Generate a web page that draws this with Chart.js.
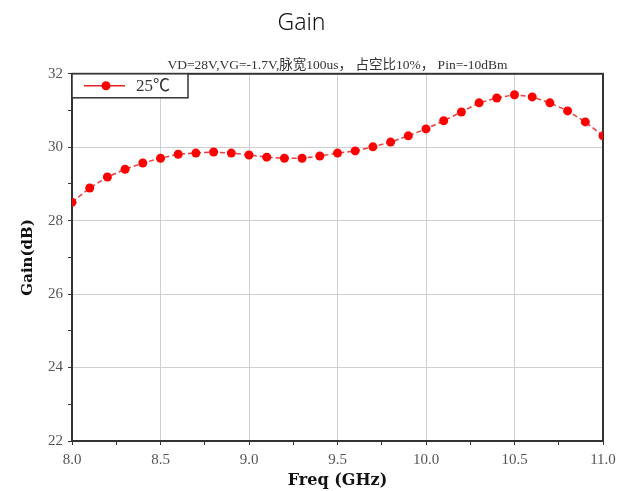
<!DOCTYPE html>
<html>
<head>
<meta charset="utf-8">
<script src="https://cdn.jsdelivr.net/npm/chart.js@4/dist/chart.umd.min.js"></script>
<style>
  body { margin: 0; background: #fff; }
</style>
</head>
<body>
<canvas id="myChart" width="627" height="491"></canvas>
<script>
var freqData = [8.0, 8.1, 8.2, 8.3, 8.4, 8.5, 8.6, 8.7, 8.8, 8.9, 9.0,
                9.1, 9.2, 9.3, 9.4, 9.5, 9.6, 9.7, 9.8, 9.9, 10.0,
                10.1, 10.2, 10.3, 10.4, 10.5, 10.6, 10.7, 10.8, 10.9, 11.0];
var gainData = [28.50, 28.89, 29.19, 29.40, 29.57, 29.70, 29.81, 29.84, 29.87, 29.84, 29.79,
                29.73, 29.70, 29.70, 29.76, 29.84, 29.90, 30.01, 30.14, 30.31, 30.50,
                30.72, 30.96, 31.21, 31.34, 31.43, 31.37, 31.21, 30.99, 30.69, 30.31];
var seriesName = "25℃";
var chartTitle = "Gain";
var chartSubtitle = "VD=28V,VG=-1.7V,脉宽100us， 占空比10%， Pin=-10dBm";

var serif = "'Liberation Serif', 'Noto Sans CJK SC', serif";

function isStep(v, step) {
  var r = v / step;
  return Math.abs(r - Math.round(r)) < 1e-6;
}

// marco y leyenda dentro del area
const frameAndLegend = {
  id: "frameAndLegend",
  beforeDatasetsDraw(chart) {
    const ctx = chart.ctx;
    const a = chart.chartArea;
    ctx.save();
    ctx.strokeStyle = "#333";
    ctx.lineWidth = 2;
    ctx.strokeRect(a.left, a.top, a.right - a.left, a.bottom - a.top);
    ctx.restore();
  },
  afterDatasetsDraw(chart) {
    const ctx = chart.ctx;
    const a = chart.chartArea;
    const ds = chart.data.datasets[0];
    ctx.save();
    ctx.fillStyle = "#fff";
    ctx.fillRect(a.left, a.top, 116, 24);
    ctx.strokeStyle = "#333";
    ctx.lineWidth = 1.5;
    ctx.strokeRect(a.left, a.top, 116, 24);
    ctx.strokeStyle = "#e82020";
    ctx.lineWidth = 1.5;
    ctx.beginPath();
    ctx.moveTo(a.left + 12, a.top + 12);
    ctx.lineTo(a.left + 53, a.top + 12);
    ctx.stroke();
    ctx.fillStyle = "#f00";
    ctx.beginPath();
    ctx.arc(a.left + 34, a.top + 12, 4.5, 0, Math.PI * 2);
    ctx.fill();
    ctx.fillStyle = "#333";
    ctx.font = "17px " + serif;
    ctx.textBaseline = "middle";
    ctx.fillText(ds.label, a.left + 64, a.top + 13);
    ctx.restore();
  }
};

const data = {
  labels: freqData,
  datasets: [
    {
      label: seriesName,
      data: freqData.map((f, i) => ({ x: f, y: gainData[i] })),
      borderColor: "rgba(232, 40, 40, 0.9)",
      borderWidth: 1.5,
      borderDash: [5, 3],
      backgroundColor: "#f00",
      pointBackgroundColor: "#f00",
      pointBorderWidth: 0,
      pointRadius: 4.5,
      fill: false,
      tension: 0
    }
  ]
};

const config = {
  type: "line",
  data: data,
  plugins: [frameAndLegend],
  options: {
    responsive: false,
    animation: false,
    layout: { padding: { left: 0, right: 24, top: 0, bottom: 0 } },
    plugins: {
      legend: { display: false },
      tooltip: { enabled: false },
      title: {
        display: true,
        text: chartTitle,
        color: "#111",
        font: { family: "'Noto Sans', sans-serif", size: 23, weight: 300, lineHeight: 1.2 },
        padding: { top: 10, bottom: 20 }
      },
      subtitle: {
        display: true,
        text: chartSubtitle,
        fullSize: false,
        color: "#333",
        font: { family: serif, size: 13.5, lineHeight: 1.2 },
        padding: { top: 0, bottom: 0 }
      }
    },
    scales: {
      x: {
        type: "linear",
        min: 8,
        max: 11,
        afterFit: function (scale) { scale.height = 50; },
        ticks: {
          stepSize: 0.25,
          autoSkip: false,
          maxRotation: 0,
          padding: 6,
          color: "#555",
          font: { family: serif, size: 15 },
          callback: function (v) { return isStep(v, 0.5) ? v.toFixed(1) : ""; }
        },
        grid: {
          color: function (ctx) { return ctx.tick && isStep(ctx.tick.value, 0.5) ? "#cfcfcf" : "rgba(0,0,0,0)"; },
          tickColor: "#333",
          tickLength: 4,
          lineWidth: 1
        },
        border: { display: false },
        title: {
          display: true,
          text: "Freq (GHz)",
          color: "#111",
          font: { family: "'DejaVu Serif', serif", size: 16, weight: "bold", lineHeight: 1.2 },
          padding: { top: 0, bottom: 1 }
        }
      },
      y: {
        min: 22,
        max: 32,
        afterFit: function (scale) { scale.width = 72; },
        ticks: {
          stepSize: 1,
          autoSkip: false,
          padding: 5,
          color: "#555",
          font: { family: serif, size: 15 },
          callback: function (v) { return isStep(v, 2) ? String(v) : ""; }
        },
        grid: {
          color: function (ctx) { return ctx.tick && isStep(ctx.tick.value, 2) ? "#cfcfcf" : "rgba(0,0,0,0)"; },
          tickColor: "#333",
          tickLength: 4,
          lineWidth: 1
        },
        border: { display: false },
        title: {
          display: true,
          text: "Gain(dB)",
          color: "#111",
          font: { family: "'DejaVu Serif', serif", size: 15, weight: "bold", lineHeight: 1.2 },
          padding: { top: 19, bottom: 0 }
        }
      }
    }
  }
};

let gainChart = new Chart(document.getElementById("myChart"), config);
</script>
</body>
</html>
